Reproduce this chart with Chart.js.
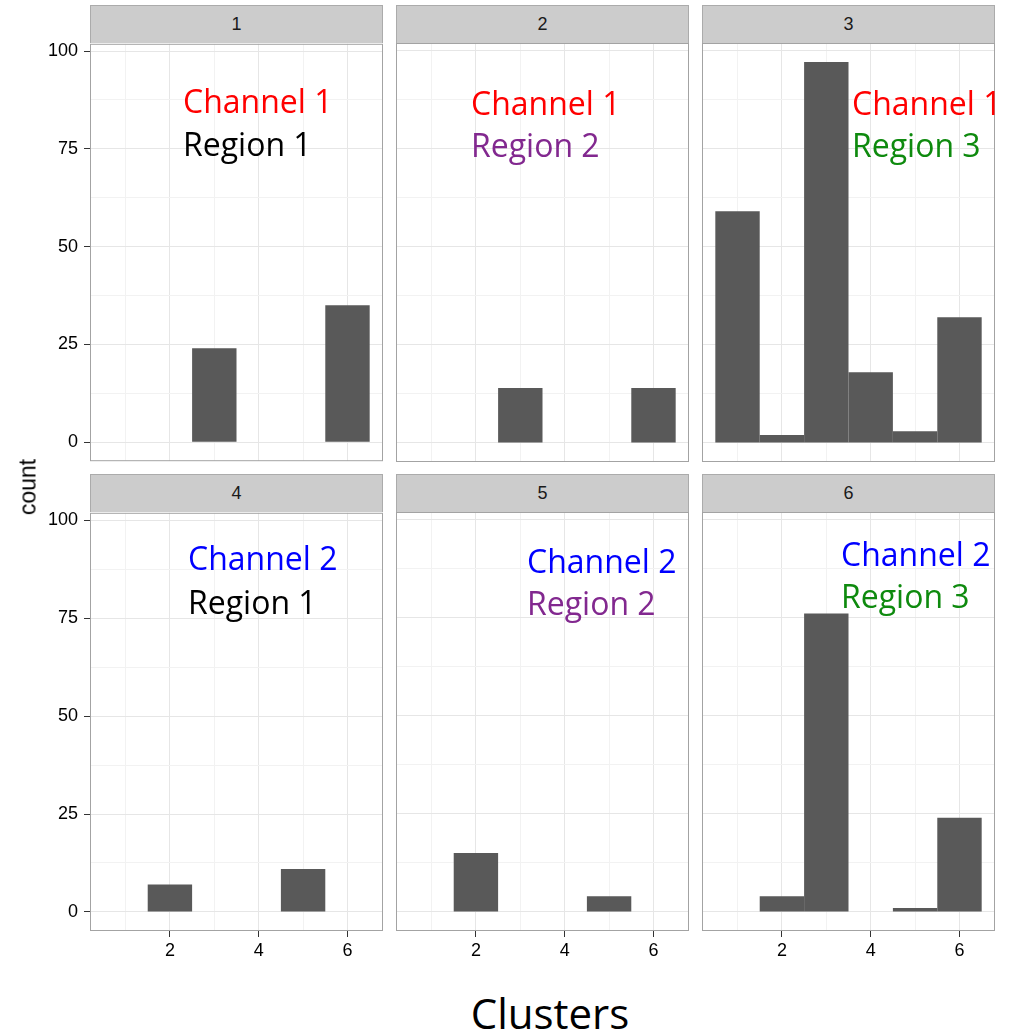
<!DOCTYPE html>
<html><head><meta charset="utf-8">
<script src="https://cdn.jsdelivr.net/npm/chart.js@4.4.0/dist/chart.umd.min.js"></script>
<style>
html,body{margin:0;padding:0;background:#fff;width:1013px;height:1035px;overflow:hidden;}
#wrap{position:relative;width:1013px;height:1035px;}
canvas{position:absolute;}
.strip{position:absolute;box-sizing:border-box;background:#CCCCCC;border:1px solid #ABABAB;border-bottom:none;font:18px "Liberation Sans",Arial,sans-serif;color:#1a1a1a;text-align:center;}
.ytitle{position:absolute;font:23px "Liberation Sans",Arial,sans-serif;color:#000;transform:translate(-50%,-50%) rotate(-90deg);white-space:nowrap;}
.xtitle{position:absolute;font:42px "Open Sans",sans-serif;color:#000;line-height:1;transform:translateX(-50%);white-space:nowrap;}
</style></head><body><div id="wrap"></div>
<script>
// ---- data ----
const clusters = [1, 2, 3, 4, 5, 6];
const panelNames = ['1', '2', '3', '4', '5', '6'];
const counts1 = [0, 0, 24, 0, 0, 35];
const counts2 = [0, 0, 14, 0, 0, 14];
const counts3 = [59, 2, 97, 18, 3, 32];
const counts4 = [0, 7, 0, 0, 11, 0];
const counts5 = [0, 15, 0, 0, 4, 0];
const counts6 = [0, 4, 76, 0, 1, 24];
const channelLabels = ['Channel 1', 'Channel 1', 'Channel 1', 'Channel 2', 'Channel 2', 'Channel 2'];
const regionLabels = ['Region 1', 'Region 2', 'Region 3', 'Region 1', 'Region 2', 'Region 3'];
const xMajorTicks = [2, 4, 6];
const xMinorTicks = [1, 3, 5];
const yMajorTicks = [0, 25, 50, 75, 100];
const yMinorTicks = [12.5, 37.5, 62.5, 87.5];
const xLimits = [0.2, 6.8];
const yLimits = [-4.85, 101.85];
const xTitle = 'Clusters';
const yTitle = 'count';

// ---- styling / layout ----
const allCounts = [counts1, counts2, counts3, counts4, counts5, counts6];
const channelColors = ['#FF0000', '#FF0000', '#FF0000', '#0000FF', '#0000FF', '#0000FF'];
const regionColors = ['#000000', '#82288F', '#0E8A0E', '#000000', '#82288F', '#0E8A0E'];
const annotOffsets = [[93, 69, 112], [75, 72, 114], [150, 72, 114], [98, 57, 101], [131, 61, 103], [139, 54, 96]];
const colLeft = [90, 396, 702];
const rowTop = [43, 512];
const PW = 293, PH = 419, PAD = 16, YAXW = 90, XAXH = 40;
const wrap = document.getElementById('wrap');

const panelPlugin = {
  id: 'panelDeco',
  afterDraw(chart, args, opts) {
    const {ctx, chartArea} = chart;
    ctx.save();
    ctx.strokeStyle = '#A3A3A3';
    ctx.lineWidth = 1;
    ctx.strokeRect(chartArea.left + 0.5, chartArea.top + 0.5, chartArea.right - chartArea.left - 1, chartArea.bottom - chartArea.top - 1);
    ctx.font = '32px "Open Sans", sans-serif';
    ctx.textAlign = 'left';
    ctx.textBaseline = 'alphabetic';
    opts.lines.forEach(l => {
      ctx.fillStyle = l.color;
      ctx.fillText(l.text, chartArea.left + l.dx, chartArea.top + l.dy);
    });
    ctx.restore();
  }
};

function build() {
  for (let p = 0; p < 6; p++) {
    const r = Math.floor(p / 3), c = p % 3;
    const isLeft = c === 0, isBottom = r === 1;
    const cLeft = isLeft ? 0 : colLeft[c] - PAD;
    const cTop = rowTop[r] - PAD;
    const cW = (isLeft ? YAXW : PAD) + PW + PAD;
    const cH = PAD + PH + (isBottom ? XAXH : PAD);
    const cv = document.createElement('canvas');
    cv.width = cW; cv.height = cH;
    cv.style.left = cLeft + 'px'; cv.style.top = cTop + 'px';
    cv.style.width = cW + 'px'; cv.style.height = cH + 'px';
    wrap.appendChild(cv);

    const off = annotOffsets[p];
    new Chart(cv, {
      type: 'bar',
      data: {
        labels: clusters,
        datasets: [{
          data: allCounts[p],
          backgroundColor: (ctx) => (ctx.raw ? '#595959' : 'rgba(0,0,0,0)'),
          borderWidth: 0,
          inflateAmount: 0,
          barPercentage: 1,
          categoryPercentage: 1
        }]
      },
      options: {
        responsive: false,
        animation: false,
        events: [],
        layout: { padding: { left: isLeft ? 0 : PAD, right: PAD, top: PAD, bottom: isBottom ? 0 : PAD } },
        plugins: {
          legend: { display: false },
          tooltip: { enabled: false },
          panelDeco: { lines: [
            { text: channelLabels[p], color: channelColors[p], dx: off[0], dy: off[1] },
            { text: regionLabels[p], color: regionColors[p], dx: off[0], dy: off[2] }
          ] }
        },
        scales: {
          x: {
            type: 'linear',
            min: xLimits[0], max: xLimits[1],
            bounds: 'data',
            offset: false,
            afterBuildTicks: (axis) => { axis.ticks = xMinorTicks.concat(xMajorTicks).sort((a, b) => a - b).map(v => ({ value: v })); },
            afterFit: (axis) => { axis.height = isBottom ? XAXH : 0; },
            border: { display: false },
            grid: {
              offset: false,
              drawTicks: isBottom,
              tickLength: 6,
              lineWidth: 1,
              color: (ctx) => xMajorTicks.includes(ctx.tick.value) ? '#E6E6E6' : '#F2F2F2',
              tickColor: (ctx) => xMajorTicks.includes(ctx.tick.value) ? '#333333' : 'rgba(0,0,0,0)'
            },
            ticks: {
              display: isBottom,
              autoSkip: false,
              maxRotation: 0,
              padding: 3,
              color: '#000000',
              font: { family: '"Liberation Sans", Arial, sans-serif', size: 18 },
              callback: (v) => xMajorTicks.includes(v) ? String(v) : ''
            }
          },
          y: {
            type: 'linear',
            min: yLimits[0], max: yLimits[1],
            bounds: 'data',
            afterBuildTicks: (axis) => { axis.ticks = yMajorTicks.concat(yMinorTicks).sort((a, b) => a - b).map(v => ({ value: v })); },
            afterFit: (axis) => { axis.width = isLeft ? YAXW : 0; },
            border: { display: false },
            grid: {
              drawTicks: isLeft,
              tickLength: 6,
              lineWidth: 1,
              color: (ctx) => yMajorTicks.includes(ctx.tick.value) ? '#E6E6E6' : '#F2F2F2',
              tickColor: (ctx) => yMajorTicks.includes(ctx.tick.value) ? '#333333' : 'rgba(0,0,0,0)'
            },
            ticks: {
              display: isLeft,
              autoSkip: false,
              padding: 6,
              color: '#000000',
              font: { family: '"Liberation Sans", Arial, sans-serif', size: 18 },
              callback: (v) => yMajorTicks.includes(v) ? String(v) : ''
            }
          }
        }
      },
      plugins: [panelPlugin]
    });

    const st = document.createElement('div');
    st.className = 'strip';
    const stTop = r === 0 ? 5 : 474;
    st.style.left = colLeft[c] + 'px';
    st.style.top = stTop + 'px';
    st.style.width = PW + 'px';
    st.style.height = (rowTop[r] - stTop) + 'px';
    st.style.lineHeight = (rowTop[r] - stTop - 1) + 'px';
    st.textContent = panelNames[p];
    wrap.appendChild(st);
  }
  const yt = document.createElement('div');
  yt.className = 'ytitle';
  yt.style.left = '28px'; yt.style.top = '487px';
  yt.textContent = yTitle;
  wrap.appendChild(yt);
  const xt = document.createElement('div');
  xt.className = 'xtitle';
  xt.style.left = '550px'; xt.style.top = '992px';
  xt.textContent = xTitle;
  wrap.appendChild(xt);
}

Promise.all([
  document.fonts.load('32px "Open Sans"'),
  document.fonts.load('18px "Liberation Sans"')
]).catch(() => {}).then(build);
</script>
</body></html>
